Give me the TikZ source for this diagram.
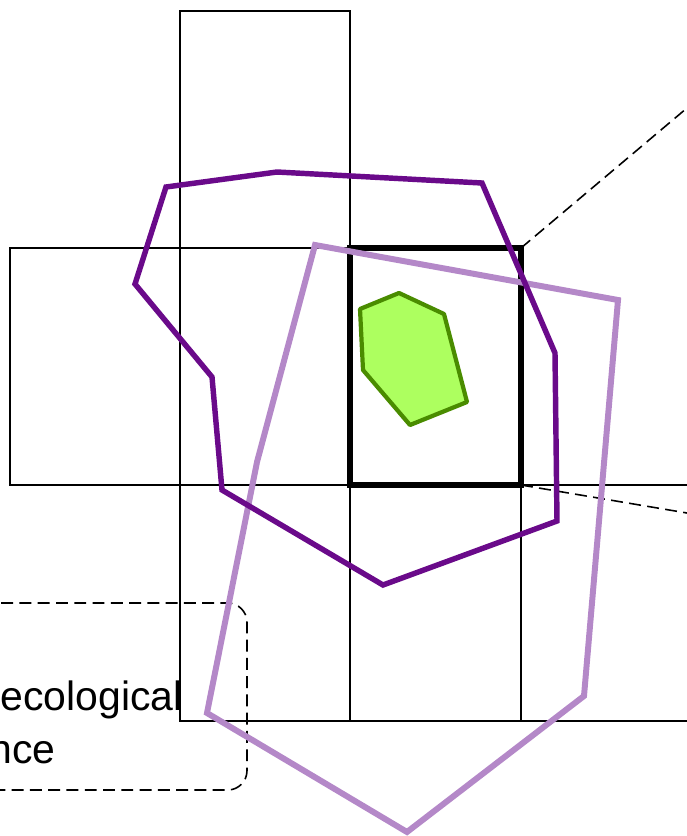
\documentclass[tikz,border=0pt]{standalone}
\usepackage{fontspec}
\setmainfont{Liberation Sans}
\definecolor{darkviolet}{RGB}{106,10,138}
\definecolor{lilac}{RGB}{180,136,200}
\definecolor{leafgreen}{RGB}{173,255,95}
\definecolor{leafedge}{RGB}{74,140,0}
\begin{document}
\begin{tikzpicture}[
        x=0.02cm, y=-0.02cm,
        cell/.style={draw=black, line width=1.4pt},
        selcell/.style={draw=black, line width=3.7pt},
        zoomline/.style={draw=black, line width=0.9pt, dash pattern=on 6.8pt off 3.6pt},
        outerzone/.style={draw=darkviolet, line width=3.1pt, line join=miter},
        widezone/.style={draw=lilac, line width=3.4pt, line join=miter},
        corezone/.style={draw=leafedge, fill=leafgreen, line width=2.4pt, line join=round},
        every node/.style={font=\fontsize{23.3pt}{30pt}\selectfont, inner sep=0pt}
    ]
        \useasboundingbox (0,0) rectangle (687,836);

        % --- RASTER ---
        \draw[cell] (180,11) rectangle (350,248);
        \foreach \xa/\xb in {10/180, 180/350} {
            \draw[cell] (\xa,248) rectangle (\xb,485);
        }
        \foreach \xa/\xb in {180/350, 350/521, 521/720} {
            \draw[cell] (\xa,485) rectangle (\xb,721);
        }

        % Izbrana celica (debelejša linija)
        \coordinate (selNW) at (350,248);
        \coordinate (selSE) at (521,485);
        \coordinate (selNE) at (521,248);
        \draw[selcell] (selNW) rectangle (selSE);

        % Povezave do povečanega izseka
        \coordinate (zoomTop) at (687,108);
        \coordinate (zoomBot) at (687,513);
        \draw[zoomline] (selNE) -- (zoomTop);
        \draw[zoomline] (selSE) -- (zoomBot);

        % --- OKVIR Z BESEDILOM ---
        \draw[zoomline, rounded corners=11pt] (-30,603) rectangle (247,790);
        \node[anchor=base east] (lblA) at (183,710) {ecological};
        \node[anchor=base east] (lblB) at (56,763) {nce};

        % --- OBMOČJA ---
        \draw[widezone] (315,245) -- (618,300) -- (584,696) -- (407,832)
            -- (207,713) -- (257,462) -- cycle;
        \draw[outerzone] (166,187) -- (277,172) -- (482,183) -- (555,353)
            -- (557,521) -- (383,585) -- (222,490) -- (212,377) -- (135,284) -- cycle;
        \draw[corezone] (360,309) -- (399,293) -- (444,314) -- (467,402)
            -- (410,425) -- (363,370) -- cycle;
    \end{tikzpicture}
\end{document}
